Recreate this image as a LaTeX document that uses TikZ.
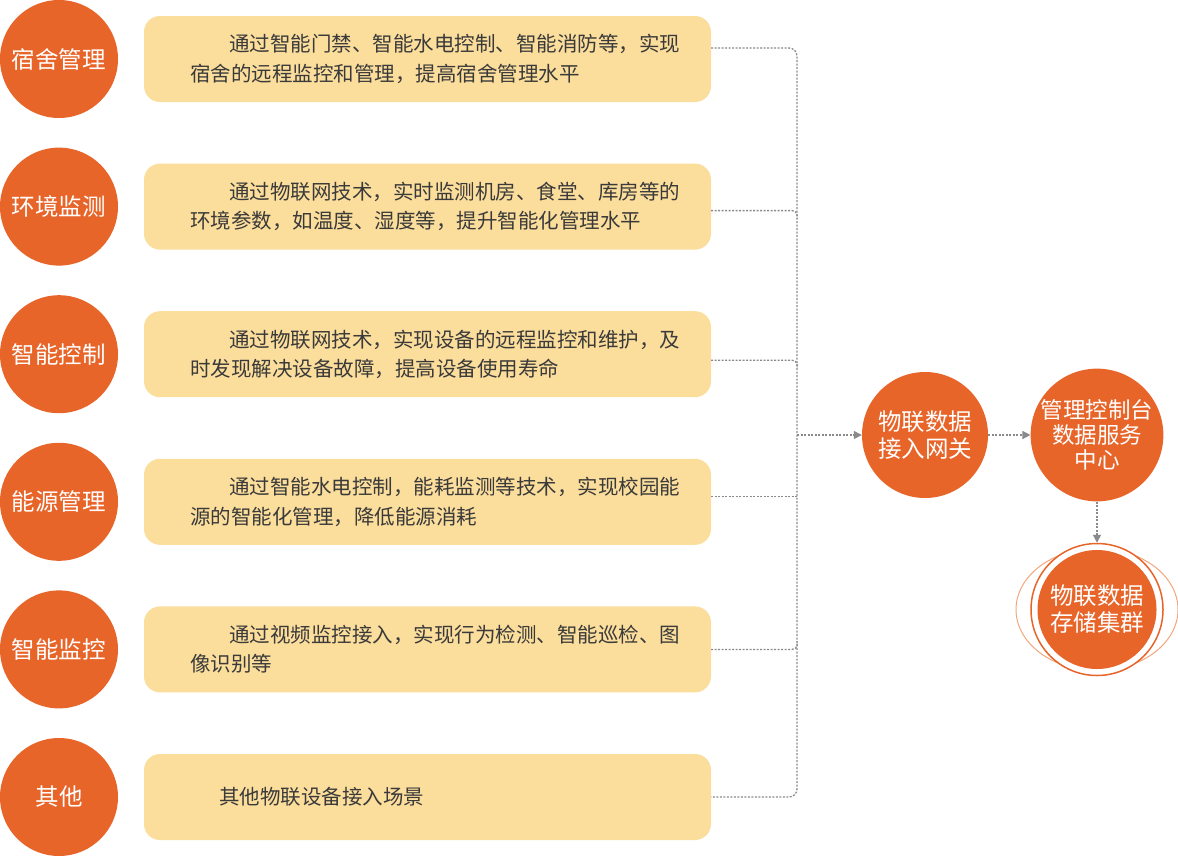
\documentclass[tikz,border=0pt]{standalone}
\usepackage{fontspec}
\setmainfont{Noto Sans CJK SC}
\usetikzlibrary{arrows.meta}
\definecolor{org}{HTML}{E8652A}
\definecolor{boxy}{HTML}{FBDD9C}
\definecolor{txt}{HTML}{3A3A3A}
\definecolor{conn}{HTML}{8A8A8A}
\definecolor{ringl}{HTML}{F2A67C}
\begin{document}
\begin{tikzpicture}[x=1pt,y=-1pt,
 cat/.style={circle, fill=org, minimum size=118pt, inner sep=0pt, text=white, font=\fontsize{23.5}{27}\selectfont},
 card/.style={rectangle, rounded corners=16pt, fill=boxy, minimum width=567pt, minimum height=86pt, text width=475pt, inner xsep=46pt, inner ysep=0pt, align=left, text=txt, font=\fontsize{20.5}{29.5}\selectfont},
 hub/.style={circle, fill=org, inner sep=0pt, text=white, align=center},
 link/.style={draw=conn, line width=1.3pt, dash pattern=on 2pt off 1.5pt},
 tip/.style={-{Triangle[length=8pt,width=8pt,fill=conn]}}
]
\useasboundingbox (0,0) rectangle (1178,857);

% left categories
\node[cat] (c1) at (59,59) {宿舍管理};
\node[cat] (c2) at (59,206.6) {环境监测};
\node[cat] (c3) at (59,354.2) {智能控制};
\node[cat] (c4) at (59,501.8) {能源管理};
\node[cat] (c5) at (59,649.4) {智能监控};
\node[cat] (c6) at (59,797) {其他};

% description cards
\node[card] (b1) at (427.5,59) {\hspace*{39pt}通过智能门禁、智能水电控制、智能消防等，实现\\宿舍的远程监控和管理，提高宿舍管理水平};
\node[card] (b2) at (427.5,206.6) {\hspace*{39pt}通过物联网技术，实时监测机房、食堂、库房等的\\环境参数，如温度、湿度等，提升智能化管理水平};
\node[card] (b3) at (427.5,354.2) {\hspace*{39pt}通过物联网技术，实现设备的远程监控和维护，及\\时发现解决设备故障，提高设备使用寿命};
\node[card] (b4) at (427.5,501.8) {\hspace*{39pt}通过智能水电控制，能耗监测等技术，实现校园能\\源的智能化管理，降低能源消耗};
\node[card] (b5) at (427.5,649.4) {\hspace*{39pt}通过视频监控接入，实现行为检测、智能巡检、图\\像识别等};
\node[card] (b6) at (427.5,797) {\hspace*{29pt}其他物联设备接入场景};

% right hubs
\node[hub, minimum size=126pt, font=\fontsize{23.5}{27}\selectfont] (gw) at (925,435) {物联数据\\接入网关};
\node[hub, minimum size=128pt, font=\fontsize{22.5}{25}\selectfont] (ctr) at (1097,435) {管理控制台\\数据服务\\中心};

\draw[ringl, line width=1pt] (1097,609.5) ellipse [x radius=81, y radius=61];
\node[circle, draw=org, fill=white, line width=1.5pt, minimum size=132pt, inner sep=0pt] (ring) at (1097,609.5) {};
\node[hub, minimum size=119pt, font=\fontsize{23.5}{27}\selectfont] (st) at (ring.center) {物联数据\\存储集群};

% connectors
\coordinate (sp6) at (797,797);
\coordinate (j) at (797,435);
\draw[link, rounded corners=8pt] ([yshift=11pt]b1.east) -| (sp6) -- (b6.east);
\draw[link, rounded corners=5pt] ([yshift=-4pt]b2.east) -- ++(86,0) -- ++(0,8);
\draw[link, rounded corners=5pt] ([yshift=-6pt]b3.east) -- ++(86,0) -- ++(0,8);
\draw[link] ([yshift=5pt]b4.east) -- ++(86,0);
\draw[link, rounded corners=5pt] (b5.east) -- ++(86,0) -- ++(0,-8);
\draw[link, tip] (j) -- (gw);
\draw[link, tip] (gw) -- (ctr);
\draw[link, tip] (ctr) -- (ring);
\end{tikzpicture}
\end{document}
